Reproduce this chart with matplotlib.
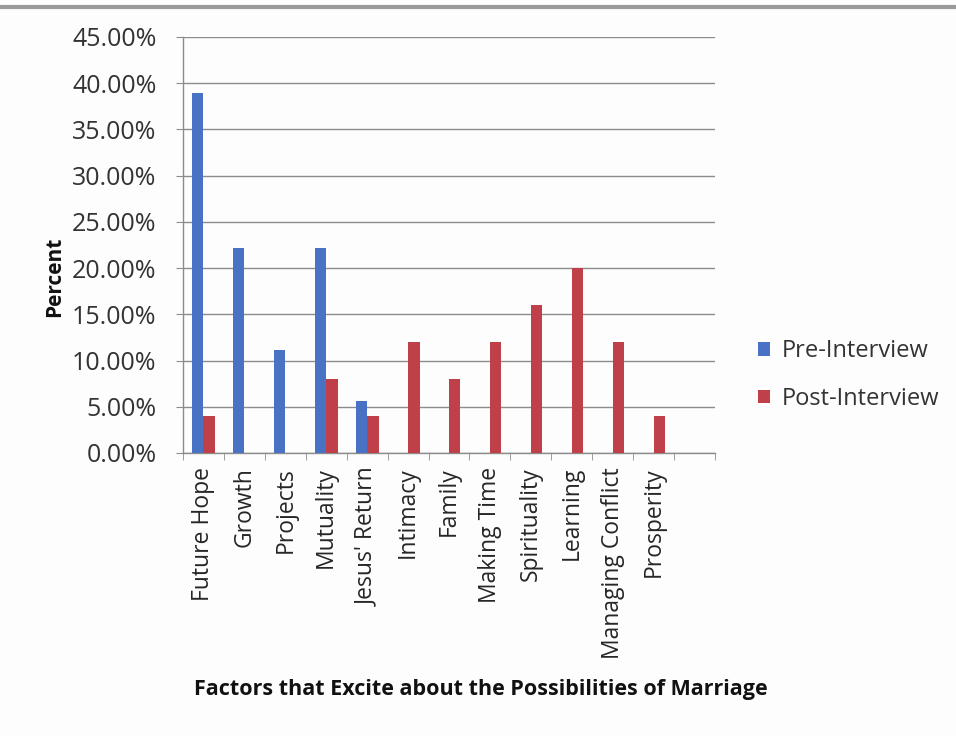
import numpy as np
import matplotlib.pyplot as plt
from matplotlib.ticker import PercentFormatter

# factors and survey shares (percent)
factors = ['Future Hope', 'Growth', 'Projects', 'Mutuality', "Jesus' Return",
           'Intimacy', 'Family', 'Making Time', 'Spirituality', 'Learning',
           'Managing Conflict', 'Prosperity', '']
pre_interview = [38.9, 22.2, 11.1, 22.2, 5.6, 0, 0, 0, 0, 0, 0, 0, 0]
post_interview = [4.0, 0, 0, 8.0, 4.0, 12.0, 8.0, 12.0, 16.0, 20.0, 12.0, 4.0, 0]

plt.rcParams['font.family'] = ['Open Sans', 'DejaVu Sans']

fig = plt.figure(figsize=(9.56, 7.36), dpi=100)
fig.patch.set_facecolor('#fdfdfd')
ax = fig.add_axes([183 / 956, 1 - 453 / 736, (715 - 183) / 956, (453 - 37) / 736])
ax.set_facecolor('#fdfdfd')

x = np.arange(len(factors))
w = 0.28
ax.bar(x - w / 2, pre_interview, w, color='#4a72c4', label='Pre-Interview', zorder=3)
ax.bar(x + w / 2, post_interview, w, color='#c0404a', label='Post-Interview', zorder=3)

ax.set_xlim(-0.5, len(factors) - 0.5)
ax.set_ylim(0, 45)
ax.set_yticks(np.arange(0, 46, 5))
ax.yaxis.set_major_formatter(PercentFormatter(decimals=2))
ax.grid(axis='y', color='#8c8c8c', linewidth=1.0, zorder=0)

ax.set_xticks(x)
ax.set_xticklabels(factors, rotation=90, va='top', ha='center')
ax.set_xticks(np.arange(-0.5, len(factors), 1), minor=True)
ax.tick_params(axis='x', which='major', length=0, pad=10, labelsize=16.5, labelcolor='#262626')
ax.tick_params(axis='x', which='minor', length=5, color='#8c8c8c', direction='out')
ax.tick_params(axis='y', length=5, color='#8c8c8c', labelsize=18, labelcolor='#333333', pad=14)

for side in ['top', 'right']:
    ax.spines[side].set_visible(False)
for side in ['left', 'bottom']:
    ax.spines[side].set_color('#8c8c8c')
    ax.spines[side].set_linewidth(1.0)

fig.text(55 / 956, 1 - 277 / 736, 'Percent', rotation=90, ha='center', va='center',
         fontsize=15, fontweight='bold', color='#111111')
fig.text(481 / 956, 1 - 690 / 736, 'Factors that Excite about the Possibilities of Marriage',
         ha='center', va='center', fontsize=15.5, fontweight='bold', color='#111111')

fig.legend(loc='center left', bbox_to_anchor=(746 / 956, 1 - 375 / 736), frameon=False,
           fontsize=17, handlelength=0.5, handleheight=0.5, handletextpad=0.5,
           labelspacing=1.0, labelcolor='#333333', borderpad=0)

# thin grey rule along the top edge
fig.add_artist(plt.Line2D([0, 1], [1 - 7 / 736, 1 - 7 / 736], color='#9a9a9a', linewidth=3))

fig.savefig('out.png', dpi=100, facecolor=fig.get_facecolor())
